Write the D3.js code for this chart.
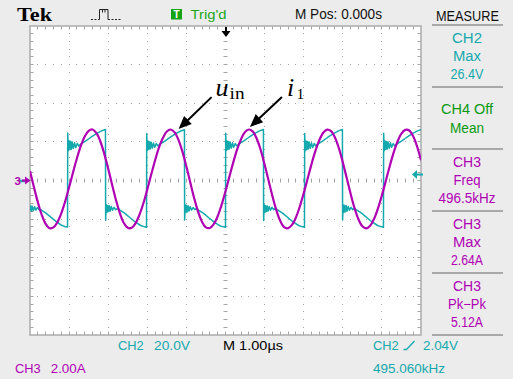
<!DOCTYPE html>
<html>
<head>
<meta charset="utf-8">
<script src="https://cdn.jsdelivr.net/npm/d3@7"></script>
<style>
  html, body { margin: 0; padding: 0; background: #ececec; }
  svg { display: block; }
</style>
</head>
<body>
<svg id="scope" width="513" height="379"></svg>
<script>
// ---- Scope settings ----
const hDivs = 10, vDivs = 8, minorPerDiv = 5;
const timePerDiv = 1.0;        // µs / div
const ch2VoltsPerDiv = 20.0;   // V / div
const ch3AmpsPerDiv = 2.0;     // A / div
const triggerLevel = 2.04;     // V on CH2

// ---- CH3: inductor current i1, one sample every 0.1 µs from -5 µs to +5 µs (A) ----
const ch3Start = -5.0, ch3Step = 0.1;
const ch3Amps = [
   0.49, -0.34, -1.12, -1.78, -2.25, -2.47, -2.43, -2.16, -1.70, -1.08,
  -0.35,  0.41,  1.15,  1.79,  2.28,  2.57,  2.64,  2.45,  2.02,  1.38,
   0.61, -0.22, -1.02, -1.70, -2.20, -2.45, -2.45, -2.21, -1.77, -1.18,
  -0.46,  0.31,  1.05,  1.71,  2.21,  2.54,  2.64,  2.49,  2.09,  1.48,
   0.72, -0.11, -0.92, -1.62, -2.14, -2.43, -2.46, -2.26, -1.85, -1.26,
  -0.56,  0.20,  0.95,  1.62,  2.15,  2.51,  2.64,  2.53,  2.16,  1.58,
   0.83,  0.01, -0.81, -1.53, -2.09, -2.41, -2.47, -2.30, -1.92, -1.35,
  -0.66,  0.09,  0.85,  1.53,  2.09,  2.47,  2.63,  2.56,  2.23,  1.67,
   0.94,  0.13, -0.69, -1.43, -2.01, -2.37, -2.48, -2.34, -1.98, -1.44,
  -0.77, -0.02,  0.74,  1.44,  2.02,  2.43,  2.62,  2.59,  2.29,  1.76,
   1.05
];

// ---- CH2: input voltage uin, trace vertices [time µs, volts] ----
const ch2Trace = [
  [-5.00,-15.6],[-4.98,-13.1],[-4.96,-15.9],[-4.94,-13.3],[-4.91,-15.5],[-4.88,-13.6],[-4.85,-15.3],[-4.81,-14.0],[-4.77,-15.0],[-4.72,-15.2],
  [-4.60,-16.8],[-4.46,-19.1],[-4.32,-21.4],[-4.19,-23.2],[-4.09,-24.0],[-4.04,-24.1],
  [-4.035,24.6],[-4.02,15.4],[-4.00,20.6],[-3.98,15.9],[-3.96,20.3],[-3.94,16.2],[-3.92,19.9],[-3.89,16.7],[-3.86,19.5],[-3.83,17.1],[-3.79,19.2],[-3.75,17.8],[-3.70,18.9],
  [-3.58,20.4],[-3.44,22.4],[-3.30,24.3],[-3.17,25.7],[-3.07,26.4],
  [-3.065,-20.6],[-3.05,-12.4],[-3.03,-16.4],[-3.01,-12.9],[-2.99,-16.1],[-2.97,-13.1],[-2.95,-15.8],[-2.92,-13.5],[-2.89,-15.4],[-2.85,-13.9],[-2.81,-15.1],[-2.76,-14.4],[-2.71,-15.2],
  [-2.58,-16.9],[-2.44,-19.3],[-2.30,-21.6],[-2.17,-23.3],[-2.07,-24.0],[-2.02,-24.2],
  [-2.015,24.3],[-2.00,15.6],[-1.98,20.4],[-1.96,16.1],[-1.94,20.1],[-1.92,16.4],[-1.90,19.8],[-1.87,16.8],[-1.84,19.4],[-1.81,17.2],[-1.77,19.1],[-1.73,17.9],[-1.68,18.8],
  [-1.56,20.3],[-1.42,22.3],[-1.28,24.2],[-1.15,25.6],[-1.05,26.3],
  [-1.045,-20.4],[-1.03,-12.6],[-1.01,-16.6],[-0.99,-12.8],[-0.97,-16.2],[-0.95,-13.2],[-0.93,-15.7],[-0.90,-13.6],[-0.87,-15.3],[-0.83,-14.0],[-0.79,-15.0],[-0.74,-14.5],[-0.69,-15.3],
  [-0.56,-17.0],[-0.42,-19.4],[-0.28,-21.7],[-0.15,-23.4],[-0.05,-24.0],[0.00,-24.2],
  [0.005,24.5],[0.02,15.5],[0.04,20.5],[0.06,16.0],[0.08,20.2],[0.10,16.3],[0.12,19.9],[0.15,16.8],[0.18,19.5],[0.21,17.2],[0.25,19.1],[0.29,17.9],[0.34,18.9],
  [0.46,20.4],[0.60,22.4],[0.74,24.3],[0.87,25.7],[0.97,26.4],
  [0.975,-20.7],[0.99,-12.5],[1.01,-16.5],[1.03,-12.9],[1.05,-16.1],[1.07,-13.2],[1.09,-15.8],[1.12,-13.5],[1.15,-15.4],[1.19,-13.9],[1.23,-15.1],[1.28,-14.4],[1.33,-15.2],
  [1.46,-16.9],[1.60,-19.3],[1.74,-21.6],[1.87,-23.3],[1.97,-24.0],[2.02,-24.2],
  [2.025,24.4],[2.04,15.4],[2.06,20.5],[2.08,15.9],[2.10,20.2],[2.12,16.3],[2.14,19.9],[2.17,16.7],[2.20,19.5],[2.23,17.1],[2.27,19.2],[2.31,17.8],[2.36,18.9],
  [2.48,20.4],[2.62,22.4],[2.76,24.3],[2.89,25.7],[2.99,26.4],
  [2.995,-20.5],[3.01,-12.5],[3.03,-16.5],[3.05,-12.8],[3.07,-16.2],[3.09,-13.1],[3.11,-15.8],[3.14,-13.5],[3.17,-15.4],[3.21,-13.9],[3.25,-15.1],[3.30,-14.4],[3.35,-15.2],
  [3.48,-16.9],[3.62,-19.3],[3.76,-21.6],[3.89,-23.3],[3.99,-24.0],[4.04,-24.2],
  [4.045,24.5],[4.06,15.5],[4.08,20.5],[4.10,16.0],[4.12,20.2],[4.14,16.3],[4.16,19.9],[4.19,16.8],[4.22,19.5],[4.25,17.2],[4.29,19.1],[4.33,17.9],[4.38,18.9],
  [4.50,20.4],[4.64,22.4],[4.78,24.3],[4.91,25.7],[5.00,26.3]
];

// ---- Readouts ----
const headerTexts = ["Tek", "Trig'd", "M Pos: 0.000s", "MEASURE"];
const measureBlocks = [
  ["CH2", "Max", "26.4V"],
  ["CH4 Off", "Mean"],
  ["CH3", "Freq", "496.5kHz"],
  ["CH3", "Max", "2.64A"],
  ["CH3", "Pk\u2212Pk", "5.12A"]
];
const measureChannels = ["CH2", "CH4", "CH3", "CH3", "CH3"];
const footerTexts = ["CH2", "20.0V", "M 1.00\u00b5s", "CH2", "2.04V", "CH3", "2.00A", "495.060kHz"];

// ---- Styling ----
const colors = {
  bg: "#ececec", screen: "#ffffff", grid: "#a4a4a4", frame: "#b0b0b0",
  CH2: "#14a9ad", CH3: "#b000b4", CH4: "#0a9a10", text: "#111111", sep: "#a8a8a8"
};
const sans = "'Liberation Sans', Arial, sans-serif";
const serif = "'Liberation Serif', 'Times New Roman', serif";

const svg = d3.select("#scope");
const W = 513, H = 379;
const screen = { left: 30, top: 26, right: 421, bottom: 335 };

const xDiv = d3.scaleLinear().domain([0, hDivs]).range([screen.left, screen.right]);
const yDiv = d3.scaleLinear().domain([0, vDivs]).range([screen.top, screen.bottom]);
const xT = d3.scaleLinear().domain([-hDivs / 2 * timePerDiv, hDivs / 2 * timePerDiv]).range([screen.left, screen.right]);
const yV = d3.scaleLinear().domain([-vDivs / 2 * ch2VoltsPerDiv, vDivs / 2 * ch2VoltsPerDiv]).range([screen.bottom, screen.top]);
const yA = d3.scaleLinear().domain([-vDivs / 2 * ch3AmpsPerDiv, vDivs / 2 * ch3AmpsPerDiv]).range([screen.bottom, screen.top]);

svg.append("rect").attr("width", W).attr("height", H).attr("fill", colors.bg);
svg.append("rect")
  .attr("x", screen.left).attr("y", screen.top)
  .attr("width", screen.right - screen.left).attr("height", screen.bottom - screen.top)
  .attr("fill", colors.screen);

// ---- Graticule ----
const grid = svg.append("g");
const minorXs = d3.range(0, hDivs * minorPerDiv + 1).map(i => xDiv(i / minorPerDiv));
const minorYs = d3.range(0, vDivs * minorPerDiv + 1).map(i => yDiv(i / minorPerDiv));
const dot = (x, y) => grid.append("rect")
  .attr("x", Math.floor(x)).attr("y", Math.floor(y)).attr("width", 1).attr("height", 1)
  .attr("fill", colors.grid);

d3.range(1, hDivs).filter(k => k !== hDivs / 2).forEach(k => {
  minorYs.slice(1, -1).forEach(y => dot(xDiv(k), y));
});
d3.range(1, vDivs).filter(k => k !== vDivs / 2).forEach(k => {
  minorXs.slice(1, -1).forEach(x => dot(x, yDiv(k)));
});

const tick = (x1, y1, x2, y2) => grid.append("line")
  .attr("x1", x1).attr("y1", y1).attr("x2", x2).attr("y2", y2)
  .attr("stroke", colors.grid).attr("stroke-width", 1);

// center cross with minor ticks
const cx = Math.floor(xDiv(hDivs / 2)) + 0.5, cy = Math.floor(yDiv(vDivs / 2)) + 0.5;
minorYs.slice(1, -1).forEach(y => tick(cx - 2, Math.floor(y) + 0.5, cx + 2, Math.floor(y) + 0.5));
minorXs.slice(1, -1).forEach(x => tick(Math.floor(x) + 0.5, cy - 2, Math.floor(x) + 0.5, cy + 2));
// frame ticks
minorYs.slice(1, -1).forEach(y => {
  const yy = Math.floor(y) + 0.5;
  tick(screen.left, yy, screen.left + 3.5, yy);
  tick(screen.right - 3.5, yy, screen.right, yy);
});
minorXs.slice(1, -1).forEach(x => {
  const xx = Math.floor(x) + 0.5;
  tick(xx, screen.top, xx, screen.top + 3.5);
  tick(xx, screen.bottom - 3.5, xx, screen.bottom);
});
grid.append("rect")
  .attr("x", screen.left).attr("y", screen.top)
  .attr("width", screen.right - screen.left).attr("height", screen.bottom - screen.top)
  .attr("fill", "none").attr("stroke", colors.frame).attr("stroke-width", 1.6);

// ---- Traces ----
svg.append("clipPath").attr("id", "screenClip").append("rect")
  .attr("x", screen.left).attr("y", screen.top)
  .attr("width", screen.right - screen.left).attr("height", screen.bottom - screen.top);
const traces = svg.append("g").attr("clip-path", "url(#screenClip)");

const ch2Line = d3.line().x(d => xT(d[0])).y(d => yV(d[1]));
traces.append("path").datum(ch2Trace)
  .attr("d", ch2Line).attr("fill", "none")
  .attr("stroke", colors.CH2).attr("stroke-width", 1.5).attr("stroke-linejoin", "round");

const ch3Points = ch3Amps.map((a, i) => [ch3Start + i * ch3Step, a]);
const ch3Line = d3.line().x(d => xT(d[0])).y(d => yA(d[1])).curve(d3.curveCatmullRom);
traces.append("path").datum(ch3Points)
  .attr("d", ch3Line).attr("fill", "none")
  .attr("stroke", colors.CH3).attr("stroke-width", 2.2).attr("stroke-linejoin", "round");

// ---- Markers ----
const markers = svg.append("g");
// trigger position (top)
const tx = xT(0) + 0.5;
markers.append("line").attr("x1", tx).attr("y1", screen.top + 1).attr("x2", tx).attr("y2", screen.top + 6)
  .attr("stroke", "#000").attr("stroke-width", 2);
markers.append("path")
  .attr("d", `M${tx - 4.5},${screen.top + 5} L${tx + 4.5},${screen.top + 5} L${tx},${screen.top + 11} Z`)
  .attr("fill", "#000");
// trigger level (right)
const ty = yV(triggerLevel) - 2;
markers.append("path")
  .attr("d", `M${screen.right - 9},${ty} L${screen.right - 4},${ty - 4.5} L${screen.right - 4},${ty + 4.5} Z`)
  .attr("fill", colors.CH2);
markers.append("line").attr("x1", screen.right - 5).attr("y1", ty).attr("x2", screen.right + 2).attr("y2", ty)
  .attr("stroke", colors.CH2).attr("stroke-width", 2);
// channel ground markers (left)
const gy = yA(0);
markers.append("line").attr("x1", 19).attr("y1", gy + 0.5).attr("x2", 25).attr("y2", gy + 0.5)
  .attr("stroke", colors.CH2).attr("stroke-width", 2.5);
markers.append("text").attr("x", 14.5).attr("y", gy + 4.5)
  .attr("font-family", sans).attr("font-size", 11.5).attr("font-weight", "bold")
  .attr("fill", colors.CH3).text("3");
markers.append("line").attr("x1", 22).attr("y1", gy).attr("x2", 26).attr("y2", gy)
  .attr("stroke", colors.CH3).attr("stroke-width", 2);
markers.append("path")
  .attr("d", `M${25},${gy - 4} L${30.5},${gy} L${25},${gy + 4} Z`)
  .attr("fill", colors.CH3);

// ---- Text helper ----
function label(parent, x, y, str, o) {
  const t = parent.append("text")
    .attr("x", x).attr("y", y)
    .attr("font-family", o.family || sans)
    .attr("font-size", o.size || 13)
    .attr("fill", o.fill || colors.text)
    .attr("text-anchor", o.anchor || "start")
    .text(str);
  if (o.weight) t.attr("font-weight", o.weight);
  if (o.style) t.attr("font-style", o.style);
  if (o.width) t.attr("textLength", o.width).attr("lengthAdjust", "spacingAndGlyphs");
  return t;
}

// ---- Header ----
const header = svg.append("g");
label(header, 17, 20.5, headerTexts[0], { family: serif, size: 18.5, weight: "bold", width: 35, fill: "#000" });
// acquisition icon
header.append("path")
  .attr("d", "M91,19.5 H93 M94.5,19.5 H96.5 M98,19.5 H99.5 V9.5 H108 V19.5 H110 M111.5,19.5 H113.5 M115,19.5 H117 M118.5,19.5 H120.5 M102.5,9.5 V12.5 M105,9.5 V12.5")
  .attr("fill", "none").attr("stroke", "#222").attr("stroke-width", 1);
header.append("rect").attr("x", 171).attr("y", 9).attr("width", 11).attr("height", 10.5).attr("fill", "#14a414");
label(header, 176.5, 18, "T", { size: 10, weight: "bold", fill: "#fff", anchor: "middle" });
label(header, 190.5, 18.5, headerTexts[1], { size: 13.5, fill: "#18a818", width: 36 });
label(header, 295, 19, headerTexts[2], { size: 14, width: 87 });
label(header, 436, 20.5, headerTexts[3], { size: 14.5, width: 63 });

// ---- Measurement panel ----
const panel = svg.append("g");
const panelX1 = 432, panelX2 = 503, panelCx = 467;
const sepYs = [25, 87, 149, 211, 273, 335];
const panelWidths = {
  "CH2": 30, "Max": 28, "26.4V": 33, "CH4 Off": 52, "Mean": 34, "CH3": 28,
  "Freq": 27, "496.5kHz": 57, "2.64A": 32, "Pk\u2212Pk": 38, "5.12A": 32
};
sepYs.forEach(y => panel.append("line")
  .attr("x1", panelX1).attr("x2", panelX2).attr("y1", y).attr("y2", y)
  .attr("stroke", colors.sep).attr("stroke-width", 1.8));
measureBlocks.forEach((lines, bi) => {
  const top = sepYs[bi];
  const baselines = lines.length === 3 ? [18.3, 36.3, 54] : [27, 45.8];
  const fill = colors[measureChannels[bi]];
  lines.forEach((s, li) => label(panel, panelCx, top + baselines[li], s,
    { size: 14, fill, anchor: "middle", width: panelWidths[s] }));
});

// ---- Footer ----
const footer = svg.append("g");
label(footer, 118, 350, footerTexts[0], { size: 13, fill: colors.CH2, width: 25.7 });
label(footer, 154, 350, footerTexts[1], { size: 13, fill: colors.CH2, width: 36 });
label(footer, 223, 350, footerTexts[2], { size: 13, fill: "#000", width: 60 });
label(footer, 373, 350, footerTexts[3], { size: 13, fill: colors.CH2, width: 25.7 });
footer.append("path").attr("d", "M403.5,349.5 H406.5 L414.5,341")
  .attr("fill", "none").attr("stroke", colors.CH2).attr("stroke-width", 1.3);
label(footer, 423, 350, footerTexts[4], { size: 13, fill: colors.CH2, width: 35 });
label(footer, 15, 372.5, footerTexts[5], { size: 13, fill: colors.CH3, width: 25.7 });
label(footer, 50.7, 372.5, footerTexts[6], { size: 13, fill: colors.CH3, width: 35 });
label(footer, 373, 372.5, footerTexts[7], { size: 13, fill: colors.CH2, width: 72 });

// ---- Annotations: arrows to the traces ----
const notes = svg.append("g");
function arrow(tipX, tipY, tailX, tailY) {
  const dx = tipX - tailX, dy = tipY - tailY, len = Math.hypot(dx, dy);
  const ux = dx / len, uy = dy / len, headLen = 13, halfW = 5.5;
  const bx = tipX - ux * headLen, by = tipY - uy * headLen;
  notes.append("line").attr("x1", tailX).attr("y1", tailY).attr("x2", bx + ux * 2).attr("y2", by + uy * 2)
    .attr("stroke", "#000").attr("stroke-width", 2);
  notes.append("path")
    .attr("d", `M${tipX},${tipY} L${bx - uy * halfW},${by + ux * halfW} L${bx + uy * halfW},${by - ux * halfW} Z`)
    .attr("fill", "#000");
}
// uin arrow points at the CH2 trace near the end of a high interval
const uTipT = -1.20;
const uTipV = d3.scaleLinear().domain([-1.28, -1.15]).range([24.2, 25.6])(uTipT);
const uTip = [xT(uTipT), yV(uTipV) - 3];
arrow(uTip[0], uTip[1], uTip[0] + 33, uTip[1] - 32);
label(notes, uTip[0] + 37, uTip[1] - 33.5, "u", { family: serif, size: 26, style: "italic", fill: "#000" });
label(notes, uTip[0] + 51, uTip[1] - 30, "in", { family: serif, size: 16.5, fill: "#000", width: 15 });

// i1 arrow points at a CH3 peak
const peakIdx = 56;
const iTip = [xT(ch3Start + peakIdx * ch3Step) + 1, yA(ch3Amps[peakIdx]) - 2.5];
arrow(iTip[0], iTip[1], iTip[0] + 32, iTip[1] - 30);
label(notes, iTip[0] + 37, iTip[1] - 31.5, "i", { family: serif, size: 26, style: "italic", fill: "#000" });
label(notes, iTip[0] + 46.5, iTip[1] - 28.5, "1", { family: serif, size: 15.5, fill: "#000" });
</script>
</body>
</html>
